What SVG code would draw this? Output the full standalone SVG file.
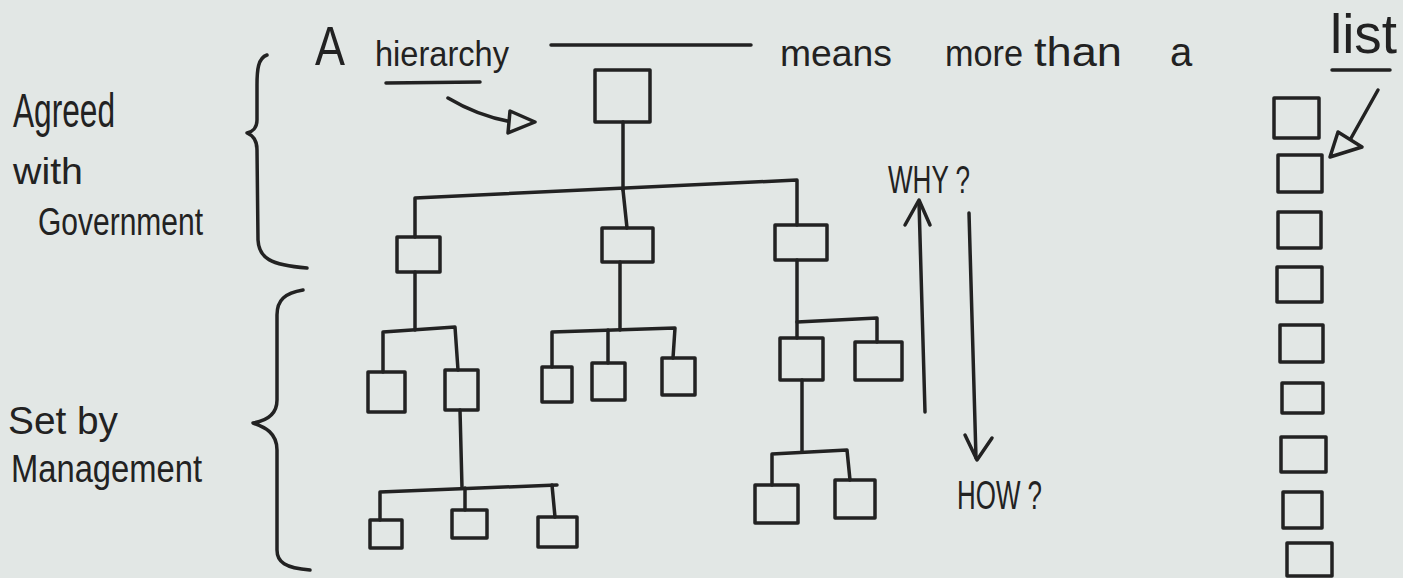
<svg xmlns="http://www.w3.org/2000/svg" width="1403" height="578" viewBox="0 0 1403 578">
<style>
.ln{fill:none;stroke:#222;stroke-width:3.5;stroke-linecap:round;stroke-linejoin:round}
.bx{fill:none;stroke:#222;stroke-width:3.5;stroke-linejoin:round}
.hd{fill:#e2e7e5;stroke:#222;stroke-width:3.5;stroke-linejoin:round}
.t{font-family:"Liberation Sans","DejaVu Sans",sans-serif;fill:#222}
</style>
<rect width="1403" height="578" fill="#e2e7e5"/>

<g id="title">
<text class="t" x="315" y="65" font-size="56" textLength="30" lengthAdjust="spacingAndGlyphs">A</text>
<text class="t" x="375" y="66" font-size="35" textLength="134" lengthAdjust="spacingAndGlyphs">hierarchy</text>
<path class="ln" d="M386,83 L480,82"/>
<path class="ln" d="M551,45 L751,45"/>
<text class="t" x="780" y="66" font-size="36" textLength="112" lengthAdjust="spacingAndGlyphs">means</text>
<text class="t" x="945" y="66" font-size="36" textLength="78" lengthAdjust="spacingAndGlyphs">more</text>
<text class="t" x="1034" y="66" font-size="40" textLength="88" lengthAdjust="spacingAndGlyphs">than</text>
<text class="t" x="1170" y="66" font-size="40">a</text>
</g>

<g id="list-label">
<text class="t" x="1330" y="53" font-size="56" textLength="67" lengthAdjust="spacingAndGlyphs">list</text>
<path class="ln" d="M1332,70 L1390,70"/>
</g>

<g id="agreed-label">
<text class="t" x="13" y="127" font-size="48" textLength="102" lengthAdjust="spacingAndGlyphs">Agreed</text>
<text class="t" x="13" y="184" font-size="36" textLength="70" lengthAdjust="spacingAndGlyphs">with</text>
<text class="t" x="38" y="235" font-size="38" textLength="165" lengthAdjust="spacingAndGlyphs">Government</text>
</g>

<g id="set-label">
<text class="t" x="8" y="434" font-size="38" textLength="110" lengthAdjust="spacingAndGlyphs">Set by</text>
<text class="t" x="11" y="482" font-size="38" textLength="191" lengthAdjust="spacingAndGlyphs">Management</text>
</g>

<g id="braces">
<path class="ln" d="M267,55 C258,58 257,70 257,85 L257,120 C257,128 252,132 247,133 C252,135 257,140 257,150 L258,240 C259,258 270,265 307,268"/>
<path class="ln" d="M303,290 C285,293 277,300 277,315 L277,400 C277,415 265,421 253,423 C265,427 277,433 277,450 L277,550 C277,562 285,568 310,570"/>
</g>

<g id="why-how">
<text class="t" x="888" y="193" font-size="38" textLength="82" lengthAdjust="spacingAndGlyphs">WHY ?</text>
<text class="t" x="957" y="509" font-size="40" textLength="85" lengthAdjust="spacingAndGlyphs">HOW ?</text>
</g>

<g id="connectors">
<path class="ln" d="M448,98 Q478,116 512,122"/>
<polygon class="hd" points="510,111 535,122 508,133"/>
<path class="ln" d="M1378,90 L1350,140"/>
<polygon class="hd" points="1330,157 1338,132 1362,147"/>
<path class="ln" d="M925,412 L919,202"/>
<path class="ln" d="M905,225 L919,200 L930,225"/>
<path class="ln" d="M969,213 L976,458"/>
<path class="ln" d="M965,435 L977,460 L992,438"/>

<path class="ln" d="M623,122 L623,190"/>
<path class="ln" d="M415,237 L415,198 L797,180 L797,225"/>
<path class="ln" d="M623,190 L627,228"/>

<path class="ln" d="M415,272 L415,330"/>
<path class="ln" d="M383,372 L383,332 L455,327 L458,370"/>
<path class="ln" d="M460,410 L462,488"/>
<path class="ln" d="M380,520 L380,492 L557,485"/>
<path class="ln" d="M465,488 L465,510"/>
<path class="ln" d="M552,485 L555,517"/>

<path class="ln" d="M620,262 L620,330"/>
<path class="ln" d="M552,367 L552,332 L675,328 L673,358"/>
<path class="ln" d="M608,330 L608,363"/>

<path class="ln" d="M797,260 L797,338"/>
<path class="ln" d="M797,322 L877,318 L877,342"/>
<path class="ln" d="M802,380 L802,452"/>
<path class="ln" d="M772,485 L772,454 L847,450 L850,480"/>
</g>

<g id="node-top"><rect class="bx" x="595" y="70" width="55" height="52"/></g>
<g id="node-l2-left"><rect class="bx" x="397" y="237" width="43" height="35"/></g>
<g id="node-l2-mid"><rect class="bx" x="602" y="228" width="51" height="34"/></g>
<g id="node-l2-right"><rect class="bx" x="775" y="225" width="52" height="35"/></g>

<g id="node-ll1"><rect class="bx" x="368" y="372" width="37" height="40"/></g>
<g id="node-ll2"><rect class="bx" x="445" y="370" width="33" height="40"/></g>
<g id="node-lb1"><rect class="bx" x="370" y="520" width="32" height="28"/></g>
<g id="node-lb2"><rect class="bx" x="452" y="510" width="35" height="28"/></g>
<g id="node-lb3"><rect class="bx" x="538" y="517" width="39" height="30"/></g>

<g id="node-m1"><rect class="bx" x="542" y="367" width="30" height="35"/></g>
<g id="node-m2"><rect class="bx" x="592" y="363" width="33" height="37"/></g>
<g id="node-m3"><rect class="bx" x="662" y="358" width="33" height="37"/></g>

<g id="node-r1"><rect class="bx" x="780" y="338" width="43" height="42"/></g>
<g id="node-r2"><rect class="bx" x="855" y="342" width="47" height="38"/></g>
<g id="node-br1"><rect class="bx" x="755" y="485" width="43" height="38"/></g>
<g id="node-br2"><rect class="bx" x="835" y="480" width="40" height="38"/></g>

<g id="list-1"><rect class="bx" x="1274" y="98" width="45" height="40"/></g>
<g id="list-2"><rect class="bx" x="1278" y="155" width="44" height="37"/></g>
<g id="list-3"><rect class="bx" x="1278" y="212" width="43" height="36"/></g>
<g id="list-4"><rect class="bx" x="1277" y="267" width="45" height="35"/></g>
<g id="list-5"><rect class="bx" x="1280" y="325" width="43" height="37"/></g>
<g id="list-6"><rect class="bx" x="1282" y="383" width="41" height="30"/></g>
<g id="list-7"><rect class="bx" x="1281" y="437" width="45" height="35"/></g>
<g id="list-8"><rect class="bx" x="1283" y="492" width="39" height="36"/></g>
<g id="list-9"><rect class="bx" x="1287" y="543" width="45" height="33"/></g>
</svg>
